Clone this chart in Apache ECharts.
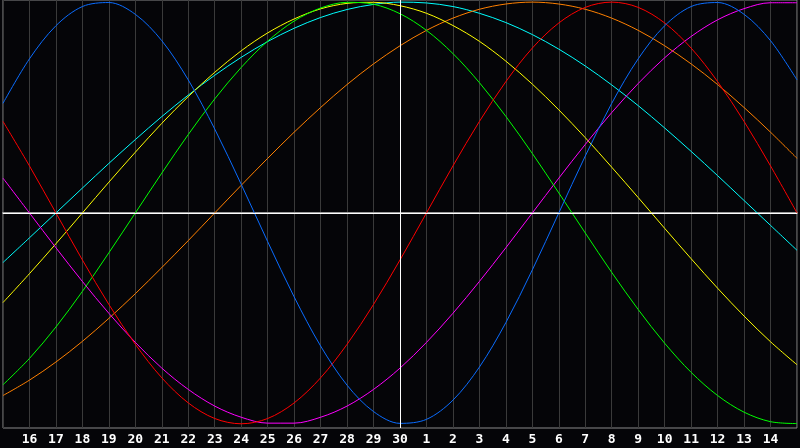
<!DOCTYPE html>
<html>
<head>
<meta charset="utf-8">
<script src="https://cdn.jsdelivr.net/npm/echarts@6/dist/echarts.min.js"></script>
<style>
  html, body {margin: 0; padding: 0; background: #050508;}
  #main {width: 800px; height: 448px;}
</style>
</head>
<body>
<div id="main"></div>
<script>
  // days shown on the x axis (first and last are the chart edges)
  const days = ['15', '16', '17', '18', '19', '20', '21', '22', '23', '24', '25', '26', '27', '28', '29', '30',
    '1', '2', '3', '4', '5', '6', '7', '8', '9', '10', '11', '12', '13', '14', '15'];

  // cycle values per day (-1 .. 1)
  const physical = [0.520, 0.731, 0.888, 0.979, 0.998, 0.942, 0.817, 0.631, 0.398, 0.136, -0.136, -0.398, -0.631, -0.817,
    -0.942, -0.998, -0.979, -0.888, -0.731, -0.520, -0.270, 0, 0.270, 0.520, 0.731, 0.888, 0.979, 0.998, 0.942, 0.817, 0.631];
  const emotional = [0.434, 0.223, 0, -0.223, -0.434, -0.623, -0.782, -0.901, -0.975, -1, -0.975, -0.901, -0.782, -0.623,
    -0.434, -0.223, 0, 0.223, 0.434, 0.623, 0.782, 0.901, 0.975, 1, 0.975, 0.901, 0.782, 0.623, 0.434, 0.223, 0];
  const intellectual = [-0.815, -0.690, -0.541, -0.372, -0.189, 0, 0.189, 0.372, 0.541, 0.690, 0.815, 0.910, 0.972, 0.999,
    0.990, 0.945, 0.866, 0.756, 0.618, 0.458, 0.282, 0.095, -0.095, -0.282, -0.458, -0.618, -0.756, -0.866, -0.945, -0.990, -0.999];
  const intuitive = [0.165, 0, -0.165, -0.325, -0.476, -0.614, -0.736, -0.837, -0.916, -0.969, -0.997, -0.997, -0.969, -0.916,
    -0.837, -0.736, -0.614, -0.476, -0.325, -0.165, 0, 0.165, 0.325, 0.476, 0.614, 0.736, 0.837, 0.916, 0.969, 0.997, 0.997];
  const aesthetic = [-0.425, -0.288, -0.146, 0, 0.146, 0.288, 0.425, 0.552, 0.667, 0.769, 0.854, 0.920, 0.968, 0.994,
    0.999, 0.983, 0.947, 0.889, 0.814, 0.720, 0.611, 0.489, 0.357, 0.217, 0.073, -0.073, -0.217, -0.357, -0.489, -0.611, -0.720];
  const awareness = [-0.866, -0.793, -0.707, -0.609, -0.5, -0.383, -0.259, -0.131, 0, 0.131, 0.259, 0.383, 0.5, 0.609,
    0.707, 0.793, 0.866, 0.924, 0.966, 0.991, 1, 0.991, 0.966, 0.924, 0.866, 0.793, 0.707, 0.609, 0.5, 0.383, 0.259];
  const spiritual = [-0.235, -0.118, 0, 0.118, 0.235, 0.348, 0.457, 0.559, 0.653, 0.738, 0.813, 0.876, 0.927, 0.965,
    0.989, 1.000, 0.996, 0.979, 0.947, 0.903, 0.846, 0.777, 0.697, 0.607, 0.509, 0.403, 0.292, 0.177, 0.059, -0.059, -0.177];

  const todayIndex = 15;

  const myChart = echarts.init(document.getElementById('main'));

  function line(name, data, color) {
    return {
      name: name,
      type: 'line',
      data: data,
      smooth: 0.33,
      showSymbol: false,
      silent: true,
      lineStyle: {color: color, width: 1},
      z: 3
    };
  }

  const series = [
    line('Spiritual', spiritual, '#00ffff'),
    line('Awareness', awareness, '#ff8000'),
    line('Aesthetic', aesthetic, '#ffff00'),
    line('Intuitive', intuitive, '#ff00ff'),
    line('Intellectual', intellectual, '#00ff00'),
    line('Emotional', emotional, '#ff0000'),
    line('Physical', physical, '#0a6cff')
  ];
  // today + zero line
  series[0].markLine = {
    silent: true,
    symbol: 'none',
    label: {show: false},
    lineStyle: {color: '#ffffff', width: 1, type: 'solid'},
    data: [{xAxis: todayIndex}, {yAxis: 0}]
  };

  const option = {
    backgroundColor: '#050508',
    animation: false,
    grid: {
      left: 0, right: 1, top: 0, bottom: 20,
      show: true, borderColor: '#8a8a8a', borderWidth: 1
    },
    xAxis: {
      type: 'category',
      data: days,
      boundaryGap: false,
      axisLine: {show: true, lineStyle: {color: '#9a9a9a', width: 2}},
      axisTick: {show: false},
      splitLine: {show: true, lineStyle: {color: '#3a3a3a', width: 1}},
      axisLabel: {
        interval: 0,
        margin: 5,
        color: '#ffffff',
        fontFamily: 'DejaVu Sans Mono',
        fontWeight: 'bold',
        fontSize: 13,
        formatter: function (value, index) {
          return (index === 0 || index === days.length - 1) ? '' : value;
        }
      }
    },
    yAxis: {
      type: 'value',
      min: -1.02,
      max: 1.01,
      show: false,
      splitLine: {show: false}
    },
    series: series
  };

  myChart.setOption(option);
</script>
</body>
</html>
